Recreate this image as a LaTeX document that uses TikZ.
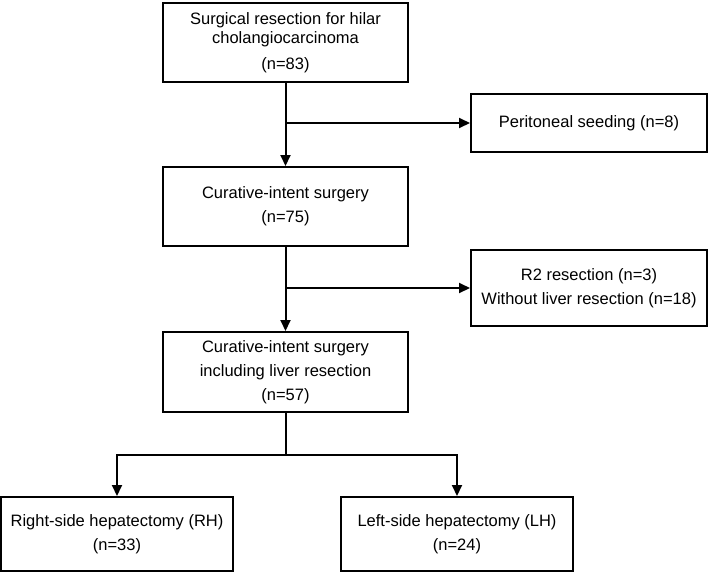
\documentclass[tikz,border=0pt]{standalone}
\usepackage{fontspec}
\setmainfont{Liberation Sans}
\usetikzlibrary{arrows.meta}

\begin{document}
\begin{tikzpicture}[x=1pt,y=-1pt]
        \tikzstyle{every path}=[line width=2pt]
        \tikzstyle{every node}=[font=\fontsize{16.5}{24}\selectfont]

        \tikzstyle{main}=[draw,align=center,minimum width=245pt,minimum height=79pt,inner sep=0pt]
        \tikzstyle{side}=[draw,align=center,minimum width=236pt,inner sep=0pt]
        \tikzstyle{arm}=[draw,align=center,minimum width=232pt,minimum height=74pt,inner sep=0pt]
        \tikzstyle{flow}=[-{Triangle[length=11pt,width=10pt]}]

        \useasboundingbox (0,0) rectangle (709,573);

        \node[main] at (285.5,42.5) (start) {Surgical resection for hilar\\[-5pt]cholangiocarcinoma\\[2pt](n=83)};
        \node[main] at (285.5,206.5) (cure) {Curative-intent surgery\\(n=75)};
        \node[main,minimum height=80pt] at (285.5,372) (liver) {Curative-intent surgery\\including liver resection\\(n=57)};

        % excluded cases on the right
        \node[side,minimum height=58pt] at (589,123) (seeding) {Peritoneal seeding (n=8)};
        \node[side,minimum height=76pt] at (589,288) (rtwo) {R2 resection (n=3)\\Without liver resection (n=18)};

        % the two hepatectomy groups
        \node[arm] at (117,534) (rh) {Right-side hepatectomy (RH)\\(n=33)};
        \node[arm] at (457,534) (lh) {Left-side hepatectomy (LH)\\(n=24)};

        \draw[flow] (start.south) -- (cure.north);
        \draw[flow] (start.south |- seeding.west) -- (seeding.west);
        \draw[flow] (cure.south) -- (liver.north);
        \draw[flow] (cure.south |- rtwo.west) -- (rtwo.west);

        \coordinate (split) at (285.5,455);
        \draw (liver.south) -- (split);
        \draw[flow] (split) -| (rh.north);
        \draw[flow] (split) -| (lh.north);
\end{tikzpicture}
\end{document}
